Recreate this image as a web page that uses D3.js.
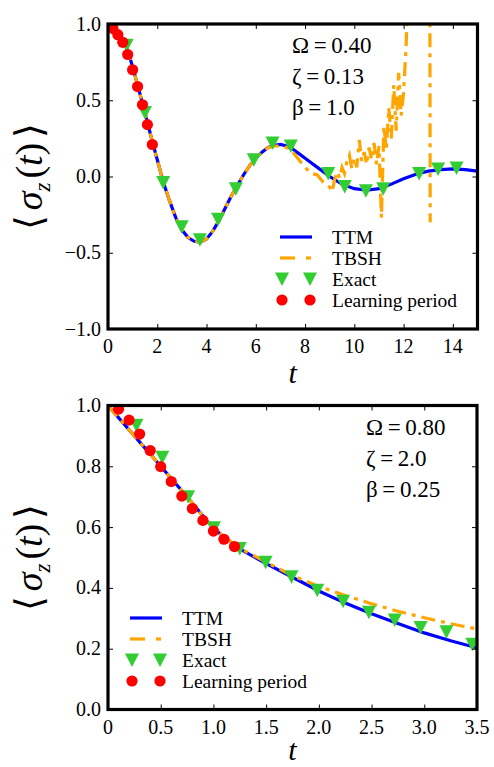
<!DOCTYPE html>
<html><head><meta charset="utf-8">
<script src="https://cdn.jsdelivr.net/npm/d3@7"></script>
</head>
<body style="margin:0">
<svg id="chart" width="494" height="767" font-family="Liberation Serif"></svg>
<script>
// ---------- DATA ----------
// Top panel (Omega=0.40, zeta=0.13, beta=1.0)
const topTTM = [[0,1.0],[0.25,0.98],[0.5,0.93],[0.75,0.85],[1.0,0.72],[1.25,0.57],[1.5,0.42],[1.75,0.26],[2.0,0.11],[2.25,-0.04],[2.5,-0.16],[2.75,-0.27],[3.0,-0.35],[3.25,-0.40],[3.5,-0.425],[3.75,-0.43],[4.0,-0.41],[4.25,-0.36],[4.5,-0.29],[4.75,-0.21],[5.0,-0.13],[5.25,-0.06],[5.5,0.01],[5.75,0.07],[6.0,0.12],[6.25,0.16],[6.5,0.19],[6.75,0.205],[7.0,0.21],[7.25,0.20],[7.5,0.18],[7.75,0.15],[8.0,0.12],[8.5,0.06],[9.0,0.0],[9.5,-0.05],[10.0,-0.08],[10.5,-0.09],[11.0,-0.08],[11.5,-0.05],[12.0,-0.015],[12.5,0.015],[13.0,0.035],[13.5,0.045],[14.0,0.05],[14.5,0.045],[15.0,0.035]];
const topTBSH = [[0,1.0],[0.25,0.98],[0.5,0.93],[0.75,0.85],[1.0,0.72],[1.25,0.57],[1.5,0.42],[1.75,0.26],[2.0,0.11],[2.25,-0.04],[2.5,-0.16],[2.75,-0.27],[3.0,-0.35],[3.25,-0.40],[3.5,-0.425],[3.75,-0.43],[4.0,-0.41],[4.25,-0.36],[4.5,-0.29],[4.75,-0.21],[5.0,-0.13],[5.25,-0.06],[5.5,0.01],[5.75,0.07],[6.0,0.12],[6.25,0.16],[6.5,0.19],[6.75,0.20],[7.0,0.20],[7.25,0.19],[7.5,0.16],[7.75,0.11],[8.0,0.06],[8.25,0.02],[8.5,0.01],[8.75,-0.04],[9.0,-0.07],[9.1,-0.10],[9.2,-0.02],[9.3,0.03],[9.4,-0.01],[9.5,0.06],[9.6,0.02],[9.7,0.10],[9.8,0.14],[9.9,0.05],[10.0,0.12],[10.1,0.06],[10.2,0.24],[10.3,0.10],[10.4,0.16],[10.5,0.08],[10.6,0.19],[10.7,0.11],[10.8,0.22],[10.9,0.08],[11.0,0.20],[11.1,-0.27],[11.2,0.33],[11.3,0.18],[11.4,0.45],[11.5,0.25],[11.6,0.60],[11.7,0.30],[11.8,0.68],[11.9,0.40],[12.0,0.55],[12.1,0.85],[12.2,1.3],[12.3,3.0],[13.05,3.0],[13.08,-0.30]];
const topExact = [[0.76,0.86],[1.5,0.42],[2.24,-0.04],[2.99,-0.33],[3.73,-0.415],[4.47,-0.28],[5.19,-0.08],[5.92,0.11],[6.68,0.22],[7.42,0.20],[8.94,0.02],[9.61,-0.066],[10.47,-0.094],[11.17,-0.08],[12.63,0.02],[13.4,0.05],[14.15,0.055]];
const topLearn = [[0.2,0.97],[0.4,0.93],[0.6,0.88],[0.8,0.80],[1.0,0.70],[1.2,0.59],[1.4,0.47],[1.6,0.34],[1.8,0.21]];
const topXTicks = [0,2,4,6,8,10,12,14];
const topXLabels = ["0","2","4","6","8","10","12","14"];
const topYTicks = [-1,-0.5,0,0.5,1];
const topYLabels = ["\u22121.0","\u22120.5","0.0","0.5","1.0"];
const topParams = ["\u03A9\u2009=\u20090.40","\u03B6\u2009=\u20090.13","\u03B2\u2009=\u20091.0"];

// Bottom panel (Omega=0.80, zeta=2.0, beta=0.25)
const botTTM = [[0,1.0],[0.25,0.90],[0.5,0.80],[0.75,0.70],[1.0,0.595],[1.25,0.528],[1.5,0.48],[1.75,0.435],[2.0,0.39],[2.25,0.35],[2.5,0.315],[2.75,0.283],[3.0,0.252],[3.25,0.226],[3.5,0.203]];
const botTBSH = [[0,1.0],[0.25,0.90],[0.5,0.80],[0.75,0.70],[1.0,0.595],[1.25,0.53],[1.5,0.485],[1.75,0.44],[2.0,0.405],[2.25,0.375],[2.5,0.348],[2.75,0.323],[3.0,0.302],[3.25,0.282],[3.5,0.265]];
const botExact = [[0.27,0.935],[0.515,0.83],[0.76,0.70],[1.005,0.598],[1.25,0.53],[1.495,0.484],[1.74,0.437],[1.985,0.392],[2.23,0.356],[2.475,0.32],[2.72,0.294],[2.965,0.27],[3.21,0.256],[3.455,0.215]];
const botLearn = [[0.1,0.988],[0.2,0.952],[0.3,0.906],[0.4,0.852],[0.5,0.799],[0.6,0.750],[0.7,0.702],[0.8,0.661],[0.9,0.622],[1.0,0.587],[1.1,0.560],[1.2,0.536]];
const botXTicks = [0,0.5,1.0,1.5,2.0,2.5,3.0,3.5];
const botXLabels = ["0","0.5","1.0","1.5","2.0","2.5","3.0","3.5"];
const botYTicks = [0,0.2,0.4,0.6,0.8,1.0];
const botYLabels = ["0.0","0.2","0.4","0.6","0.8","1.0"];
const botParams = ["\u03A9\u2009=\u20090.80","\u03B6\u2009=\u20092.0","\u03B2\u2009=\u20090.25"];

const legendLabels = ["TTM","TBSH","Exact","Learning period"];

// ---------- DRAWING ----------
const svg = d3.select("#chart");
const C = {ttm:"#0000ff", tbsh:"#ffa500", exact:"#32cd32", learn:"#ff0000"};
const tri = "M-7,-6.5L7,-6.5L0,7Z";
const SERIF = "Liberation Serif";

function txt(parent, size){
  return parent.append("text").attr("font-family",SERIF).attr("font-size",size);
}

function panel(cfg){
  const {x0,x1,y0,y1,xd,yd,id} = cfg;
  const x = d3.scaleLinear().domain(xd).range([x0,x1]);
  const y = d3.scaleLinear().domain(yd).range([y1,y0]);
  const g = svg.append("g");
  g.append("clipPath").attr("id",id).append("rect")
    .attr("x",x0).attr("y",y0).attr("width",x1-x0).attr("height",y1-y0);
  const plot = g.append("g").attr("clip-path",`url(#${id})`);
  const line = d3.line().x(d=>x(d[0])).y(d=>y(d[1]));
  plot.append("path").datum(cfg.ttm).attr("d",line).attr("fill","none")
    .attr("stroke",C.ttm).attr("stroke-width",3.2);
  plot.append("path").datum(cfg.tbsh).attr("d",line).attr("fill","none")
    .attr("stroke",C.tbsh).attr("stroke-width",3.2).attr("stroke-dasharray","14,6,4,6");
  plot.selectAll(".ex").data(cfg.exact).join("path").attr("d",tri)
    .attr("transform",d=>`translate(${x(d[0])},${y(d[1])})`).attr("fill",C.exact);
  plot.selectAll(".lp").data(cfg.learn).join("circle")
    .attr("cx",d=>x(d[0])).attr("cy",d=>y(d[1])).attr("r",5.6).attr("fill",C.learn);

  // axes (ticks from d3 axes, labels drawn as plain text from the same scales)
  const axes = [
    g.append("g").attr("transform",`translate(0,${y1})`).call(d3.axisBottom(x).tickValues(cfg.xt).tickFormat("").tickSize(-5)),
    g.append("g").attr("transform",`translate(${x0},0)`).call(d3.axisLeft(y).tickValues(cfg.yt).tickFormat("").tickSize(-5)),
    g.append("g").attr("transform",`translate(0,${y0})`).call(d3.axisTop(x).tickValues(cfg.xt).tickFormat("").tickSize(-5)),
    g.append("g").attr("transform",`translate(${x1},0)`).call(d3.axisRight(y).tickValues(cfg.yt).tickFormat("").tickSize(-5))
  ];
  axes.forEach(a=>{
    a.select(".domain").remove();
    a.selectAll("text").remove();
    a.selectAll("line").attr("stroke","#000").attr("stroke-width",1);
  });
  cfg.xt.forEach((v,i)=>{
    txt(g,20).attr("x",x(v)).attr("y",y1+24).attr("text-anchor","middle").text(cfg.xl[i]);
  });
  cfg.yt.forEach((v,i)=>{
    txt(g,20).attr("x",x0-7).attr("y",y(v)+6.5).attr("text-anchor","end").text(cfg.yl[i]);
  });
  g.append("rect").attr("x",x0).attr("y",y0).attr("width",x1-x0).attr("height",y1-y0)
    .attr("fill","none").attr("stroke","#000").attr("stroke-width",3.2);

  // parameter text
  cfg.params.forEach((p,i)=>{
    txt(g,23).attr("x",cfg.px).attr("y",cfg.py+i*cfg.pdy).text(p);
  });

  // legend
  const L = cfg.leg;
  const rows = L.rows;
  g.append("line").attr("x1",L.lx0).attr("x2",L.lx1).attr("y1",rows[0]).attr("y2",rows[0])
    .attr("stroke",C.ttm).attr("stroke-width",3.2);
  g.append("line").attr("x1",L.lx0).attr("x2",L.lx0+15).attr("y1",rows[1]).attr("y2",rows[1])
    .attr("stroke",C.tbsh).attr("stroke-width",3.2);
  g.append("line").attr("x1",L.lx1-6).attr("x2",L.lx1-1).attr("y1",rows[1]).attr("y2",rows[1])
    .attr("stroke",C.tbsh).attr("stroke-width",3.2);
  [L.lx0+2,L.lx1-2].forEach(mx=>{
    g.append("path").attr("d",tri).attr("transform",`translate(${mx},${rows[2]})`).attr("fill",C.exact);
    g.append("circle").attr("cx",mx).attr("cy",rows[3]).attr("r",5.6).attr("fill",C.learn);
  });
  legendLabels.forEach((t,i)=>{
    txt(g,19.5).attr("x",L.tx).attr("y",rows[i]+7).text(t);
  });

  // axis labels
  txt(g,30).attr("x",(x0+x1)/2).attr("y",cfg.tY).attr("text-anchor","middle")
    .attr("font-style","italic").text("t");
  const yl = txt(g,38).attr("transform",`translate(${cfg.yLX},${(y0+y1)/2}) rotate(-90)`)
    .attr("text-anchor","middle");
  yl.append("tspan").text("\u27E8");
  yl.append("tspan").attr("font-style","italic").attr("dx",5).text("\u03C3");
  yl.append("tspan").attr("font-style","italic").attr("font-size",23).attr("dy",8).text("z");
  yl.append("tspan").attr("dy",-8).attr("dx",4).text("(");
  yl.append("tspan").attr("font-style","italic").text("t");
  yl.append("tspan").text(")");
  yl.append("tspan").attr("dx",5).text("\u27E9");
}

panel({id:"c1",x0:108,x1:477.5,y0:24,y1:329,xd:[0,15],yd:[-1,1],
  ttm:topTTM,tbsh:topTBSH,exact:topExact,learn:topLearn,
  xt:topXTicks,xl:topXLabels,yt:topYTicks,yl:topYLabels,
  params:topParams,px:292,py:53,pdy:31,
  leg:{lx0:280,lx1:312,tx:332,rows:[237,258,279,300]},
  tY:383,yLX:42});
panel({id:"c2",x0:108,x1:477,y0:405.5,y1:709.5,xd:[0,3.5],yd:[0,1],
  ttm:botTTM,tbsh:botTBSH,exact:botExact,learn:botLearn,
  xt:botXTicks,xl:botXLabels,yt:botYTicks,yl:botYLabels,
  params:botParams,px:366,py:435,pdy:31,
  leg:{lx0:130,lx1:162,tx:182,rows:[618,639,660,681]},
  tY:760,yLX:42});
</script>
</body></html>
